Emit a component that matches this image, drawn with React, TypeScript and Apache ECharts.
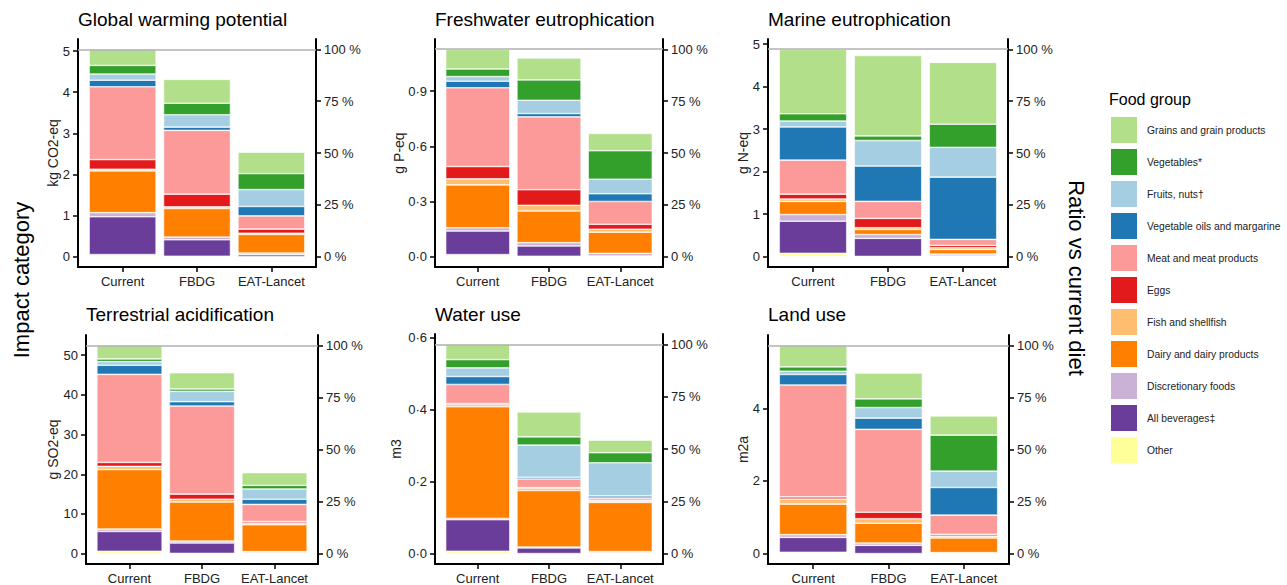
import React, { useEffect, useRef } from 'react';
import * as echarts from 'echarts';

// ---------- data ----------
const diets = ['Current', 'FBDG', 'EAT-Lancet'];

// stack order, bottom to top
const foodGroups = [
  'Other',
  'All beverages‡',
  'Discretionary foods',
  'Dairy and dairy products',
  'Fish and shellfish',
  'Eggs',
  'Meat and meat products',
  'Vegetable oils and margarine',
  'Fruits, nuts†',
  'Vegetables*',
  'Grains and grain products',
];
const groupColors = [
  '#FFFF99', '#6A3D9A', '#CAB2D6', '#FF7F00', '#FDBF6F', '#E31A1C',
  '#FB9A99', '#1F78B4', '#A6CEE3', '#33A02C', '#B2DF8A',
];

const panelTitles = [
  'Global warming potential',
  'Freshwater eutrophication',
  'Marine eutrophication',
  'Terrestrial acidification',
  'Water use',
  'Land use',
];
const unitNames = ['kg CO2-eq', 'g P-eq', 'g N-eq', 'g SO2-eq', 'm3', 'm2a'];

// Global warming potential (kg CO2-eq)
const gwpCurrent = [0.05, 0.92, 0.10, 1.015, 0.04, 0.235, 1.77, 0.16, 0.15, 0.21, 0.39];
const gwpFBDG = [0.01, 0.40, 0.065, 0.695, 0.04, 0.31, 1.55, 0.08, 0.30, 0.28, 0.58];
const gwpEAT = [0.005, 0.045, 0.04, 0.45, 0.03, 0.10, 0.32, 0.23, 0.41, 0.39, 0.52];

// Freshwater eutrophication (g P-eq)
const fwCurrent = [0.011, 0.128, 0.018, 0.233, 0.033, 0.067, 0.428, 0.036, 0.025, 0.041, 0.107];
const fwFBDG = [0.002, 0.056, 0.018, 0.172, 0.031, 0.085, 0.396, 0.018, 0.072, 0.111, 0.119];
const fwEAT = [0, 0.003, 0.015, 0.115, 0.016, 0.027, 0.124, 0.042, 0.079, 0.155, 0.094];

// Marine eutrophication (g N-eq)
const meCurrent = [0.078, 0.755, 0.157, 0.31, 0.055, 0.115, 0.80, 0.78, 0.14, 0.17, 1.515];
const meFBDG = [0.005, 0.425, 0.09, 0.12, 0.04, 0.22, 0.40, 0.83, 0.60, 0.11, 1.89];
const meEAT = [0, 0.015, 0.045, 0.11, 0.04, 0.055, 0.14, 1.465, 0.70, 0.545, 1.455];

// Terrestrial acidification (g SO2-eq)
const taCurrent = [0.58, 5.0, 0.6, 15.0, 0.8, 1.0, 22.2, 2.3, 0.9, 0.7, 3.4];
const taFBDG = [0.05, 2.62, 0.5, 9.83, 0.7, 1.3, 22.2, 1.1, 2.6, 0.6, 4.1];
const taEAT = [0, 0.17, 0.33, 6.76, 0.44, 0.4, 4.3, 1.3, 2.6, 0.9, 3.2];

// Water use (m3)
const wuCurrent = [0.0064, 0.0876, 0.0035, 0.31, 0.006, 0.003, 0.053, 0.022, 0.024, 0.023, 0.042];
const wuFBDG = [0, 0.0156, 0.0024, 0.157, 0.007, 0.001, 0.024, 0.005, 0.089, 0.023, 0.069];
const wuEAT = [0, 0.002, 0.0035, 0.1365, 0.004, 0.002, 0.006, 0.006, 0.092, 0.028, 0.035];

// Land use (m2a)
const luCurrent = [0.036, 0.41, 0.075, 0.84, 0.14, 0.06, 3.08, 0.29, 0.09, 0.12, 0.59];
const luFBDG = [0, 0.227, 0.063, 0.546, 0.124, 0.18, 2.28, 0.31, 0.29, 0.24, 0.71];
const luEAT = [0, 0.01, 0.017, 0.403, 0.05, 0.05, 0.53, 0.76, 0.45, 0.99, 0.53];

// tick labels
const gwpTicks = [0, 1, 2, 3, 4, 5];
const fwTicks = [0, 0.3, 0.6, 0.9];
const meTicks = [0, 1, 2, 3, 4, 5];
const taTicks = [0, 10, 20, 30, 40, 50];
const wuTicks = [0, 0.2, 0.4, 0.6];
const luTicks = [0, 2, 4];
const tickDecimals = [0, 1, 0, 0, 1, 0];
const pctTicks = [0, 25, 50, 75, 100];

const panelData = [
  [gwpCurrent, gwpFBDG, gwpEAT],
  [fwCurrent, fwFBDG, fwEAT],
  [meCurrent, meFBDG, meEAT],
  [taCurrent, taFBDG, taEAT],
  [wuCurrent, wuFBDG, wuEAT],
  [luCurrent, luFBDG, luEAT],
];
const panelTicks = [gwpTicks, fwTicks, meTicks, taTicks, wuTicks, luTicks];

// ---------- layout ----------
const layouts = [
  { left: 78, top: 39, width: 238, height: 228, nameGap: 18, titleTop: 5 },
  { left: 435, top: 39, width: 228, height: 228, nameGap: 29, titleTop: 5 },
  { left: 768, top: 39, width: 240, height: 228, nameGap: 18, titleTop: 5 },
  { left: 86, top: 335, width: 232, height: 230, nameGap: 26, titleTop: 300 },
  { left: 435, top: 334, width: 228, height: 231, nameGap: 32, titleTop: 300 },
  { left: 768, top: 335, width: 241, height: 230, nameGap: 18, titleTop: 300 },
];

const FONT = "'Liberation Sans', Arial, Helvetica, sans-serif";
const AXIS_COLOR = '#000';
const LABEL_COLOR = '#222';

function buildOption() {
  const grid: any[] = [];
  const xAxis: any[] = [];
  const yAxis: any[] = [];
  const series: any[] = [];
  const title: any[] = [];

  panelData.forEach((bars, p) => {
    const L = layouts[p];
    const total = bars[0].reduce((a, b) => a + b, 0);
    const yMin = -0.05 * total;
    const yMax = 1.05 * total;
    const dec = tickDecimals[p];
    const barPx = (L.width / 3.2) * 0.9;

    grid.push({ left: L.left, top: L.top, width: L.width, height: L.height, containLabel: false });
    title.push({
      text: panelTitles[p],
      left: L.left - 5,
      top: L.titleTop,
      textStyle: { fontSize: 19, fontWeight: 'normal', color: '#000', fontFamily: FONT },
    });

    xAxis.push({
      type: 'value',
      gridIndex: p,
      min: 0.4,
      max: 3.6,
      splitLine: { show: false },
      axisLine: { show: true, onZero: false, lineStyle: { color: AXIS_COLOR, width: 2 } },
      axisTick: { show: true, customValues: [1, 2, 3], length: 5, lineStyle: { color: AXIS_COLOR, width: 1.5 } },
      axisLabel: {
        show: true,
        customValues: [1, 2, 3],
        formatter: (v: number) => diets[Math.round(v) - 1] ?? '',
        margin: 8,
        fontSize: 13,
        color: LABEL_COLOR,
        fontFamily: FONT,
      },
    });

    yAxis.push({
      type: 'value',
      gridIndex: p,
      position: 'left',
      min: yMin,
      max: yMax,
      name: unitNames[p],
      nameLocation: 'middle',
      nameGap: L.nameGap,
      nameMoveOverlap: false,
      nameTextStyle: { fontSize: 14, color: LABEL_COLOR, fontFamily: FONT },
      splitLine: { show: false },
      axisLine: { show: true, onZero: false, lineStyle: { color: AXIS_COLOR, width: 2 } },
      axisTick: { show: true, customValues: panelTicks[p], length: 5, lineStyle: { color: AXIS_COLOR, width: 1.5 } },
      axisLabel: {
        show: true,
        customValues: panelTicks[p],
        formatter: (v: number) => (dec ? v.toFixed(dec).replace('.', '\u00B7') : String(Math.round(v))),
        margin: 8,
        fontSize: 13,
        color: LABEL_COLOR,
        fontFamily: FONT,
      },
    });
    yAxis.push({
      type: 'value',
      gridIndex: p,
      position: 'right',
      min: -5,
      max: 105,
      splitLine: { show: false },
      axisLine: { show: true, onZero: false, lineStyle: { color: AXIS_COLOR, width: 2 } },
      axisTick: { show: true, customValues: pctTicks, length: 5, lineStyle: { color: AXIS_COLOR, width: 1.5 } },
      axisLabel: {
        show: true,
        customValues: pctTicks,
        formatter: (v: number) => `${Math.round(v)} %`,
        margin: 8,
        fontSize: 13,
        color: LABEL_COLOR,
        fontFamily: FONT,
      },
    });

    foodGroups.forEach((g, gi) => {
      const s: any = {
        type: 'bar',
        name: g,
        xAxisIndex: p,
        yAxisIndex: 2 * p,
        stack: 'panel' + p,
        barWidth: barPx,
        // value first so that the stacked dimension is the y value
        encode: { x: 1, y: 0 },
        data: bars.map((arr, di) => [arr[gi], di + 1]),
        itemStyle: { color: groupColors[gi], borderColor: '#ffffff', borderWidth: 0.6 },
        emphasis: { disabled: true },
      };
      if (gi === foodGroups.length - 1) {
        s.markLine = {
          silent: true,
          symbol: 'none',
          label: { show: false },
          lineStyle: { color: '#b0b0b0', width: 1.6, type: 'solid' },
          data: [{ yAxis: total }],
        };
      }
      series.push(s);
    });
  });

  return {
    animation: false,
    backgroundColor: '#ffffff',
    textStyle: { fontFamily: FONT },
    title,
    grid,
    xAxis,
    yAxis,
    series,
    legend: {
      orient: 'vertical',
      left: 1104,
      top: 110,
      itemWidth: 28,
      itemHeight: 28,
      itemGap: 2,
      icon: 'rect',
      selectedMode: false,
      data: [...foodGroups].reverse(),
      textStyle: { fontSize: 10.3, color: LABEL_COLOR, fontFamily: FONT, padding: [0, 0, 0, 4] },
    },
    graphic: [
      {
        type: 'text',
        left: 1109,
        top: 91,
        style: { text: 'Food group', fontSize: 16, fill: '#000', fontFamily: FONT },
      },
      {
        type: 'text',
        x: 21,
        y: 280,
        rotation: Math.PI / 2,
        style: { text: 'Impact category', fontSize: 22, fill: '#000', fontFamily: FONT, align: 'center', verticalAlign: 'middle' },
      },
      {
        type: 'text',
        x: 1076,
        y: 278,
        rotation: -Math.PI / 2,
        style: { text: 'Ratio vs current diet', fontSize: 22, fill: '#000', fontFamily: FONT, align: 'center', verticalAlign: 'middle' },
      },
    ],
  };
}

export default function App() {
  const ref = useRef<HTMLDivElement>(null);
  useEffect(() => {
    if (!ref.current) return;
    const chart = echarts.init(ref.current, null, { renderer: 'svg' });
    chart.setOption(buildOption() as any);
    return () => chart.dispose();
  }, []);
  return (
    <div
      ref={ref}
      style={{ position: 'absolute', left: 0, top: 0, width: 1287, height: 585, background: '#fff' }}
    />
  );
}
